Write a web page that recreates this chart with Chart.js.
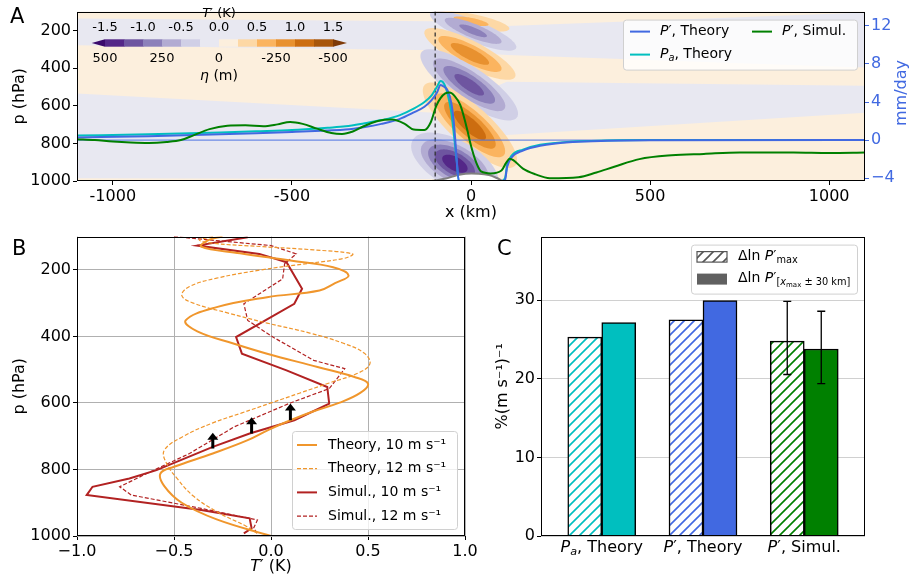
<!DOCTYPE html>
<html>
<head>
<meta charset="utf-8">
<script src="https://cdn.jsdelivr.net/npm/chart.js@4.4.1/dist/chart.umd.min.js"></script>
<style>
  body { margin: 0; background: #fff; width: 909px; height: 576px; position: relative; overflow: hidden; }
  canvas { position: absolute; }
</style>
</head>
<body>
<canvas id="chartA" width="909" height="225" style="left:0;top:0"></canvas>
<canvas id="chartB" width="480" height="351" style="left:0;top:225px"></canvas>
<canvas id="chartC" width="429" height="351" style="left:480px;top:225px"></canvas>
<script>
// ---------- Panel A : precipitation (mm/day) along x (km) ----------
const theoryX = [-1100, -900, -700, -600, -500, -400, -350, -300, -250, -200, -160, -130, -110, -95, -85,
                 -75, -65, -55, -47, -40, -34, 85, 95, 101, 114, 145, 193, 285, 380, 500, 1100];
const paTheory = [0.47, 0.6, 0.8, 0.92, 1.05, 1.3, 1.45, 1.75, 2.1, 2.6, 3.3, 4.0, 4.7, 5.6, 6.2,
                  5.9, 4.8, 2.9, 0.3, -2.2, -4.3, -4.3, -4.0, -2.6, -1.6, -1.0, -0.5, -0.15, -0.05, 0, 0];
const pTheory = [0.27, 0.4, 0.6, 0.72, 0.85, 1.0, 1.1, 1.35, 1.7, 2.2, 2.9, 3.5, 4.2, 5.0, 5.8,
                 5.6, 5.2, 3.9, 1.5, -2.0, -4.3, -4.3, -4.2, -2.8, -1.8, -1.1, -0.6, -0.2, -0.07, -0.02, 0];
const simX = [-1100, -1050, -1000, -950, -900, -850, -810, -775, -730, -680, -630, -580, -540, -505, -470,
              -430, -390, -360, -330, -300, -260, -220, -185, -160, -130, -112, -97, -85, -72, -60,
              -45, -30, -18, -10, 0, 15, 28, 55, 85, 98, 108, 118, 145, 180, 220,
              300, 350, 400, 470, 560, 650, 750, 900, 1000, 1100];
const pSimul = [0.1, 0.0, -0.15, -0.25, -0.3, -0.2, 0.0, 0.5, 1.15, 1.5, 1.55, 1.45, 1.65, 1.9, 1.7,
                1.2, 0.75, 0.65, 0.9, 1.45, 2.0, 2.15, 1.7, 1.1, 1.05, 1.9, 3.6, 4.4, 4.9, 5.0,
                4.6, 3.7, 2.2, 1.0, -0.6, -2.4, -3.3, -3.5, -3.2, -2.4, -1.95, -2.1, -3.0, -3.6, -4.0,
                -3.9, -3.4, -2.8, -2.0, -1.6, -1.45, -1.3, -1.3, -1.35, -1.3];
const terrainX = [-110, -70, -40, -15, 20, 50, 72, 88];
const terrainP = [1000, 987, 970, 961, 961, 968, 984, 1000];
const dashX = -100;
const aXTicks = [-1000, -500, 0, 500, 1000];
const aPTicks = [200, 400, 600, 800, 1000];
const aRTicks = [-4, 0, 4, 8, 12];

// T' field: background bands (pressure of band edges at bandX) and wave lobes
const bandX = [-1100, -100, 100, 1100];
const band1Top = [100, 100, 100, 100], band1Bot = [136, 151, 177, 105];
const band2Top = [279, 305, 330, 397], band2Bot = [535, 637, 473, 494];
const band3Top = [985, 990, 755, 637], band3Bot = [1000, 1000, 1000, 1000];
const lobeX   = [0, 6, -3, -5, -3, -45];
const lobeP   = [151, 202, 325, 489, 704, 908];
const lobeAmp = [0.6, -0.85, 0.95, -1.15, 1.2, -1.45];
const lobeUx  = [107, 120, 126, 133, 126, 117];
const lobeUp  = [41, 92, 123, 174, 215, 128];
const lobeVx  = [-5, -12, -18, -30, -38, -35];
const lobeVp  = [38, 52, 62, 75, 74, 105];
const cbTempTicks = [-1.5, -1.0, -0.5, 0.0, 0.5, 1.0, 1.5];
const cbEtaTicks = [500, 250, 0, -250, -500];

// ---------- Panel B : T' profiles ----------
const th10P = [100, 110, 130, 150, 172, 192, 217, 240, 262, 282, 312, 352, 385, 422, 452, 492, 522, 542,
               570, 600, 625, 652, 680, 712, 752, 792, 812, 850, 900, 950, 1000];
const th10T = [-0.25, -0.32, -0.36, -0.16, 0.10, 0.32, 0.40, 0.33, 0.25, -0.02, -0.28, -0.44, -0.38, -0.19,
               -0.02, 0.24, 0.43, 0.50, 0.46, 0.35, 0.22, 0.10, -0.01, -0.12, -0.30, -0.50, -0.57, -0.55,
               -0.46, -0.28, 0.0];
const th12P = [100, 110, 120, 130, 140, 152, 165, 180, 200, 225, 250, 277, 300, 330, 360, 390, 420, 450,
               482, 510, 540, 570, 600, 630, 660, 700, 742, 780, 830, 880, 930, 970, 992];
const th12T = [-0.30, -0.37, -0.30, -0.05, 0.22, 0.42, 0.38, 0.20, -0.05, -0.28, -0.42, -0.46, -0.40, -0.22,
               -0.02, 0.20, 0.37, 0.48, 0.51, 0.45, 0.30, 0.15, 0.00, -0.15, -0.30, -0.45, -0.55, -0.54,
               -0.48, -0.40, -0.27, -0.13, -0.07];
const s10P = [102, 127, 152, 177, 257, 302, 402, 452, 502, 552, 602, 652, 692, 732, 802, 827, 852, 877,
              922, 947, 977, 992];
const s10T = [-0.12, -0.38, -0.06, 0.08, 0.16, 0.12, -0.18, -0.15, 0.08, 0.29, 0.30, 0.12, -0.11, -0.30,
              -0.59, -0.73, -0.92, -0.95, -0.36, -0.11, -0.10, -0.14];
const s12P = [100, 127, 152, 182, 227, 302, 352, 402, 472, 497, 557, 600, 672, 752, 812, 852, 877, 917,
              952, 977, 992];
const s12T = [-0.50, 0.00, 0.13, 0.07, 0.06, -0.14, -0.12, 0.01, 0.22, 0.38, 0.30, 0.10, -0.19, -0.42,
              -0.64, -0.78, -0.72, -0.36, -0.07, -0.09, -0.07];
const arrowT = [-0.3, -0.1, 0.1];
const arrowFrom = [737, 692, 652];
const arrowTo = [690, 643, 602];
const bXTicks = [-1.0, -0.5, 0.0, 0.5, 1.0];
const bPTicks = [200, 400, 600, 800, 1000];

// ---------- Panel C : sensitivity bars ----------
const catLabels = [[['P', 'i'], ['a', 'is'], [', Theory']],
                   [['P', 'i'], ['′'], [', Theory']],
                   [['P', 'i'], ['′'], [', Simul.']]];
const maxVals = [25.3, 27.5, 24.8];
const bandVals = [27.15, 29.95, 23.8];
const maxErrLo = [null, null, 20.55], maxErrHi = [null, null, 29.85];
const bandErrLo = [null, null, 19.4], bandErrHi = [null, null, 28.6];
const cYTicks = [0, 10, 20, 30];

const BLUE = '#4169e1', CYAN = '#00bfbf', GREEN = '#008000', ORANGE = '#f0962c', RED = '#b22222';
const LAV = '#e8e8f1', CREAM = '#fcefdd';
const PURPLES = ['#d0cfe6', '#b2abd2', '#8c80ba', '#6e55a0', '#542788', '#3b0a6c'];
const ORANGES = ['#fdd8a5', '#fbb45f', '#e8912f', '#cc6d10', '#a8560a', '#7f3b08'];
const FONT = '"DejaVu Sans", sans-serif';

Chart.defaults.font.family = FONT;
Chart.defaults.color = '#000';
Chart.defaults.animation = false;

// text with italic / subscript pieces
function rich(ctx, parts, x, y, size, align) {
  let w = 0;
  const specs = parts.map(([t, f = '']) => {
    let sz = size, dy = 0;
    if (f.includes('s')) { sz = size * 0.7; dy = size * 0.28; }
    if (f.includes('S')) { sz = size * 0.5; dy = size * 0.45; }
    const font = (f.includes('i') ? 'italic ' : '') + sz + 'px ' + FONT;
    ctx.font = font;
    const tw = ctx.measureText(t).width;
    w += tw;
    return { t, font, dy, tw };
  });
  let cx = align === 'center' ? x - w / 2 : align === 'right' ? x - w : x;
  ctx.textAlign = 'left';
  ctx.textBaseline = 'middle';
  specs.forEach(s => { ctx.font = s.font; ctx.fillText(s.t, cx, y + s.dy); cx += s.tw; });
}

function fixTicks(values) {
  return s => { s.ticks = values.map(v => ({ value: v })); };
}
const minus = v => (v < 0 ? '−' : '') + Math.abs(v);

const framePlugin = {
  id: 'frame',
  afterDraw(chart) {
    const a = chart.chartArea, ctx = chart.ctx;
    ctx.save();
    ctx.strokeStyle = '#000';
    ctx.lineWidth = 1;
    ctx.strokeRect(Math.round(a.left) + 0.5, Math.round(a.top) + 0.5, Math.round(a.width) - 1, Math.round(a.height) - 1);
    ctx.restore();
  }
};

function panelLetter(letter, x, y) {
  return {
    id: 'letter' + letter,
    afterDraw(chart) {
      const ctx = chart.ctx;
      ctx.save();
      ctx.font = '21px ' + FONT;
      ctx.fillStyle = '#000';
      ctx.textAlign = 'left';
      ctx.textBaseline = 'alphabetic';
      ctx.fillText(letter, x, y);
      ctx.restore();
    }
  };
}

// ---------- Panel A ----------
const fieldPlugin = {
  id: 'field',
  beforeDatasetsDraw(chart) {
    const { ctx, chartArea: a, scales } = chart;
    const X = v => scales.x.getPixelForValue(v), P = v => scales.yP.getPixelForValue(v);
    ctx.save();
    ctx.beginPath();
    ctx.rect(a.left, a.top, a.width, a.height);
    ctx.clip();
    ctx.fillStyle = LAV;
    ctx.fillRect(a.left, a.top, a.width, a.height);
    ctx.fillStyle = CREAM;
    [[band1Top, band1Bot], [band2Top, band2Bot], [band3Top, band3Bot]].forEach(([top, bot]) => {
      ctx.beginPath();
      bandX.forEach((xv, i) => i ? ctx.lineTo(X(xv), P(top[i])) : ctx.moveTo(X(xv), P(top[i])));
      for (let i = bandX.length - 1; i >= 0; i--) ctx.lineTo(X(bandX[i]), P(bot[i]));
      ctx.closePath();
      ctx.fill();
    });
    for (let k = 1; k <= 6; k++) {
      const lev = k * 0.25;
      lobeX.forEach((xc, j) => {
        const amp = Math.abs(lobeAmp[j]);
        if (amp <= lev) return;
        const s = Math.sqrt(Math.log(amp / lev) / Math.log(amp / 0.25));
        ctx.fillStyle = (lobeAmp[j] > 0 ? ORANGES : PURPLES)[k - 1];
        ctx.beginPath();
        for (let t = 0; t <= 72; t++) {
          const th = t / 72 * 2 * Math.PI, c = Math.cos(th), sn = Math.sin(th);
          const px = X(xc + s * (c * lobeUx[j] + sn * lobeVx[j]));
          const py = P(lobeP[j] + s * (c * lobeUp[j] + sn * lobeVp[j]));
          t ? ctx.lineTo(px, py) : ctx.moveTo(px, py);
        }
        ctx.fill();
      });
    }
    ctx.restore();
  }
};

const extrasA = {
  id: 'extrasA',
  afterDraw(chart) {
    const ctx = chart.ctx, a = chart.chartArea;
    ctx.save();
    // colour bar
    const x0 = 105, x1 = 333, yT = 39.3, yB = 46.7, n = 12, w = (x1 - x0) / n;
    const cols = PURPLES.slice(0, 5).reverse().concat([LAV, CREAM], ORANGES.slice(0, 5));
    cols.forEach((c, i) => { ctx.fillStyle = c; ctx.fillRect(x0 + i * w, yT, w + 0.5, yB - yT); });
    ctx.fillStyle = PURPLES[5];
    ctx.beginPath(); ctx.moveTo(91.7, (yT + yB) / 2); ctx.lineTo(x0, yT); ctx.lineTo(x0, yB); ctx.fill();
    ctx.fillStyle = ORANGES[5];
    ctx.beginPath(); ctx.moveTo(347, (yT + yB) / 2); ctx.lineTo(x1, yT); ctx.lineTo(x1, yB); ctx.fill();
    ctx.fillStyle = '#000';
    ctx.font = '13px ' + FONT;
    ctx.textAlign = 'center';
    ctx.textBaseline = 'middle';
    const tx = v => x0 + (v + 1.5) / 3 * (x1 - x0);
    cbTempTicks.forEach(v => ctx.fillText(v.toFixed(1), tx(v), 28));
    cbEtaTicks.forEach(v => ctx.fillText(String(v), tx(-v * 0.003), 59));
    rich(ctx, [['T', 'i'], ['′ (K)']], 219, 14, 13, 'center');
    rich(ctx, [['η', 'i'], [' (m)']], 219, 76, 14, 'center');

    // legend
    const bx = a.right - 242, by = a.top + 8, bw = 234, bh = 50;
    ctx.fillStyle = 'rgba(255,255,255,0.8)';
    ctx.strokeStyle = '#d0d0d0';
    ctx.lineWidth = 1;
    ctx.beginPath(); ctx.roundRect(bx + 0.5, by + 0.5, bw, bh, 3); ctx.fill(); ctx.stroke();
    const entries = [
      [BLUE, bx + 7, by + 12, [['P', 'i'], ['′'], [', Theory']]],
      [CYAN, bx + 7, by + 35, [['P', 'i'], ['a', 'is'], [', Theory']]],
      [GREEN, bx + 129, by + 12, [['P', 'i'], ['′'], [', Simul.']]]
    ];
    entries.forEach(([c, lx, ly, parts]) => {
      ctx.strokeStyle = c; ctx.lineWidth = 2;
      ctx.beginPath(); ctx.moveTo(lx, ly); ctx.lineTo(lx + 20, ly); ctx.stroke();
      ctx.fillStyle = '#000';
      rich(ctx, parts, lx + 30, ly, 14, 'left');
    });

    // right axis title
    ctx.translate(902, 93);
    ctx.rotate(-Math.PI / 2);
    ctx.fillStyle = BLUE;
    ctx.font = '16px ' + FONT;
    ctx.textAlign = 'center';
    ctx.textBaseline = 'middle';
    ctx.fillText('mm/day', 0, 0);
    ctx.restore();
  }
};

const xy = (xs, ys) => xs.map((v, i) => ({ x: v, y: ys[i] }));
const lineDs = (label, data, axis, color, width, extra) => Object.assign({
  label, data, yAxisID: axis, borderColor: color, borderWidth: width, pointRadius: 0, fill: false, clip: 0
}, extra || {});

new Chart(document.getElementById('chartA'), {
  type: 'line',
  data: {
    datasets: [
      lineDs("P' Simul.", xy(simX, pSimul), 'yR', GREEN, 2, { cubicInterpolationMode: 'monotone', order: 1 }),
      lineDs("P' Theory", xy(theoryX, pTheory), 'yR', BLUE, 2, { cubicInterpolationMode: 'monotone', order: 2 }),
      lineDs('Pa Theory', xy(theoryX, paTheory), 'yR', CYAN, 2, { cubicInterpolationMode: 'monotone', order: 3 }),
      lineDs('zero', xy([-1100, 1100], [0, 0]), 'yR', 'rgba(65,105,225,0.75)', 1.2, { order: 4 }),
      lineDs('ridge', xy([dashX, dashX], [100, 1000]), 'yP', '#333', 1.3, { borderDash: [4, 3], order: 5 }),
      lineDs('terrain', xy(terrainX, terrainP), 'yP', '#808080', 2,
             { fill: { value: 1000 }, backgroundColor: '#fff', tension: 0.4, order: 6 })
    ]
  },
  options: {
    responsive: false,
    layout: { padding: { top: 5, left: 0, right: 0, bottom: 0 } },
    plugins: { legend: { display: false }, tooltip: { enabled: false } },
    scales: {
      x: {
        type: 'linear', min: -1100, max: 1100,
        afterBuildTicks: fixTicks(aXTicks),
        afterFit: s => { s.height = 44; },
        grid: { drawOnChartArea: false, tickLength: 4, tickColor: '#000' },
        border: { display: false },
        ticks: { autoSkip: false, maxRotation: 0, padding: 2, font: { size: 16 }, callback: v => String(v) },
        title: { display: true, text: 'x (km)', font: { size: 16 }, padding: { top: 0, bottom: 3 } }
      },
      yP: {
        type: 'linear', position: 'left', min: 100, max: 1000, reverse: true,
        afterBuildTicks: fixTicks(aPTicks),
        afterFit: s => { s.width = 77; },
        grid: { drawOnChartArea: false, tickLength: 4, tickColor: '#000' },
        border: { display: false },
        ticks: { autoSkip: false, padding: 2, font: { size: 16 }, callback: v => String(v) },
        title: { display: true, text: 'p (hPa)', font: { size: 16 }, padding: { top: 10 } }
      },
      yR: {
        type: 'linear', position: 'right', min: -4.3, max: 13.5,
        afterBuildTicks: fixTicks(aRTicks),
        afterFit: s => { s.width = 44; },
        grid: { drawOnChartArea: false, tickLength: 4, tickColor: BLUE },
        border: { display: false },
        ticks: { autoSkip: false, padding: 2, color: BLUE, font: { size: 16 }, callback: minus }
      }
    }
  },
  plugins: [fieldPlugin, framePlugin, extrasA, panelLetter('A', 10, 23)]
});

// ---------- Panel B ----------
const extrasB = {
  id: 'extrasB',
  afterDatasetsDraw(chart) {
    const ctx = chart.ctx, { x, y } = chart.scales;
    ctx.save();
    ctx.fillStyle = '#000'; ctx.strokeStyle = '#000'; ctx.lineWidth = 3;
    arrowT.forEach((t, i) => {
      const px = x.getPixelForValue(t), y0 = y.getPixelForValue(arrowFrom[i]), y1 = y.getPixelForValue(arrowTo[i]);
      ctx.beginPath(); ctx.moveTo(px, y0); ctx.lineTo(px, y1 + 6); ctx.stroke();
      ctx.beginPath(); ctx.moveTo(px, y1); ctx.lineTo(px - 5.5, y1 + 7); ctx.lineTo(px + 5.5, y1 + 7); ctx.closePath(); ctx.fill();
    });
    ctx.restore();
  },
  afterDraw(chart) {
    const ctx = chart.ctx, a = chart.chartArea;
    ctx.save();
    ctx.fillStyle = '#000';
    rich(ctx, [['T', 'i'], ['′ (K)']], (a.left + a.right) / 2, 342, 16, 'center');
    const bx = a.right - 173, by = a.bottom - 105, bw = 165, bh = 98;
    ctx.fillStyle = 'rgba(255,255,255,0.8)';
    ctx.strokeStyle = '#d0d0d0'; ctx.lineWidth = 1;
    ctx.beginPath(); ctx.roundRect(bx + 0.5, by + 0.5, bw, bh, 3); ctx.fill(); ctx.stroke();
    const entries = [
      [ORANGE, [], 2, 'Theory, 10 m s⁻¹'],
      [ORANGE, [4, 2], 1.2, 'Theory, 12 m s⁻¹'],
      [RED, [], 2, 'Simul., 10 m s⁻¹'],
      [RED, [4, 2], 1.2, 'Simul., 12 m s⁻¹']
    ];
    entries.forEach(([c, dash, lw, text], i) => {
      const ly = by + 14 + i * 23.7;
      ctx.strokeStyle = c; ctx.lineWidth = lw; ctx.setLineDash(dash);
      ctx.beginPath(); ctx.moveTo(bx + 5, ly); ctx.lineTo(bx + 25, ly); ctx.stroke();
      ctx.setLineDash([]);
      ctx.fillStyle = '#000';
      ctx.font = '14px ' + FONT; ctx.textAlign = 'left'; ctx.textBaseline = 'middle';
      ctx.fillText(text, bx + 36, ly);
    });
    ctx.restore();
  }
};

new Chart(document.getElementById('chartB'), {
  type: 'line',
  data: {
    datasets: [
      lineDs('Theory 10', xy(th10T, th10P), 'y', ORANGE, 2, { tension: 0.4 }),
      lineDs('Theory 12', xy(th12T, th12P), 'y', ORANGE, 1.2, { tension: 0.4, borderDash: [4, 2] }),
      lineDs('Simul 10', xy(s10T, s10P), 'y', RED, 2),
      lineDs('Simul 12', xy(s12T, s12P), 'y', RED, 1.2, { borderDash: [4, 2] })
    ]
  },
  options: {
    responsive: false,
    layout: { padding: { top: 11, right: 15, left: 0, bottom: 0 } },
    plugins: { legend: { display: false }, tooltip: { enabled: false } },
    scales: {
      x: {
        type: 'linear', min: -1, max: 1,
        afterBuildTicks: fixTicks(bXTicks),
        afterFit: s => { s.height = 40; },
        grid: { color: '#b0b0b0', tickLength: 4, tickColor: '#000' },
        border: { display: false },
        ticks: { autoSkip: false, maxRotation: 0, padding: 2, font: { size: 16 },
                 callback: v => (v < 0 ? '−' : '') + Math.abs(v).toFixed(1) }
      },
      y: {
        type: 'linear', min: 100, max: 1000, reverse: true,
        afterBuildTicks: fixTicks(bPTicks),
        afterFit: s => { s.width = 77; },
        grid: { color: '#b0b0b0', tickLength: 4, tickColor: '#000' },
        border: { display: false },
        ticks: { autoSkip: false, padding: 2, font: { size: 16 }, callback: v => String(v) },
        title: { display: true, text: 'p (hPa)', font: { size: 16 }, padding: { top: 10 } }
      }
    }
  },
  plugins: [framePlugin, extrasB, panelLetter('B', 12, 30)]
});

// ---------- Panel C ----------
function hatch(color, bg) {
  const c = document.createElement('canvas');
  c.width = c.height = 10;
  const g = c.getContext('2d');
  g.fillStyle = bg || '#fff';
  g.fillRect(0, 0, 10, 10);
  g.strokeStyle = color;
  g.lineWidth = 1.6;
  g.beginPath();
  g.moveTo(-1, 11); g.lineTo(11, -1);
  g.moveTo(-1, 1); g.lineTo(1, -1);
  g.moveTo(9, 11); g.lineTo(11, 9);
  g.stroke();
  return g.createPattern(c, 'repeat');
}
const barColors = [CYAN, BLUE, GREEN];

const extrasC = {
  id: 'extrasC',
  afterDatasetsDraw(chart) {
    const ctx = chart.ctx, y = chart.scales.y;
    ctx.save();
    ctx.strokeStyle = '#000'; ctx.lineWidth = 1.3;
    [[0, maxErrLo, maxErrHi], [1, bandErrLo, bandErrHi]].forEach(([d, lo, hi]) => {
      const meta = chart.getDatasetMeta(d);
      lo.forEach((l, i) => {
        if (l == null) return;
        const px = meta.data[i].x, y0 = y.getPixelForValue(l), y1 = y.getPixelForValue(hi[i]);
        ctx.beginPath();
        ctx.moveTo(px, y0); ctx.lineTo(px, y1);
        ctx.moveTo(px - 4, y0); ctx.lineTo(px + 4, y0);
        ctx.moveTo(px - 4, y1); ctx.lineTo(px + 4, y1);
        ctx.stroke();
      });
    });
    ctx.restore();
  },
  afterDraw(chart) {
    const ctx = chart.ctx, a = chart.chartArea, x = chart.scales.x;
    ctx.save();
    ctx.fillStyle = '#000';
    catLabels.forEach((parts, i) => rich(ctx, parts, x.getPixelForValue(i), 323, 16, 'center'));
    const bx = a.right - 174, by = a.top + 8, bw = 166, bh = 49;
    ctx.fillStyle = 'rgba(255,255,255,0.8)';
    ctx.strokeStyle = '#d0d0d0'; ctx.lineWidth = 1;
    ctx.beginPath(); ctx.roundRect(bx + 0.5, by + 0.5, bw, bh, 3); ctx.fill(); ctx.stroke();
    ctx.fillStyle = hatch('#555');
    ctx.fillRect(bx + 6, by + 7, 30, 10.5);
    ctx.strokeStyle = '#555'; ctx.lineWidth = 1.2;
    ctx.strokeRect(bx + 6, by + 7, 30, 10.5);
    ctx.fillStyle = '#606060';
    ctx.fillRect(bx + 6, by + 29, 30, 11);
    ctx.fillStyle = '#000';
    rich(ctx, [['Δln '], ['P', 'i'], ['′'], ['max', 's']], bx + 47, by + 11.5, 14, 'left');
    rich(ctx, [['Δln '], ['P', 'i'], ['′'], ['[', 's'], ['x', 'is'], ['max', 'S'], [' ± 30 km]', 's']],
         bx + 47, by + 34, 14, 'left');
    ctx.restore();
  }
};

new Chart(document.getElementById('chartC'), {
  type: 'bar',
  data: {
    datasets: [
      { label: 'max', data: xy([0, 1, 2], maxVals), backgroundColor: barColors.map(c => hatch(c)),
        borderColor: '#000', borderWidth: 1.5, barThickness: 34 },
      { label: 'band', data: xy([0, 1, 2], bandVals), backgroundColor: barColors,
        borderColor: '#000', borderWidth: 1.5, barThickness: 34 }
    ]
  },
  options: {
    responsive: false,
    layout: { padding: { top: 11, right: 44, left: 0, bottom: 0 } },
    plugins: { legend: { display: false }, tooltip: { enabled: false } },
    scales: {
      x: {
        type: 'linear', min: -0.6, max: 2.6, offset: false,
        afterBuildTicks: fixTicks([0, 1, 2]),
        afterFit: s => { s.height = 40; },
        grid: { display: false },
        border: { display: false },
        ticks: { display: false }
      },
      y: {
        type: 'linear', min: 0, max: 38.1,
        afterBuildTicks: fixTicks(cYTicks),
        afterFit: s => { s.width = 61; },
        grid: { color: '#d0d0d0', tickLength: 4, tickColor: '#000' },
        border: { display: false },
        ticks: { autoSkip: false, padding: 2, font: { size: 16 }, callback: v => String(v) },
        title: { display: true, text: '%(m s⁻¹)⁻¹', font: { size: 16 }, padding: { top: 13 } }
      }
    }
  },
  plugins: [framePlugin, extrasC, panelLetter('C', 17, 30)]
});
</script>
</body>
</html>
